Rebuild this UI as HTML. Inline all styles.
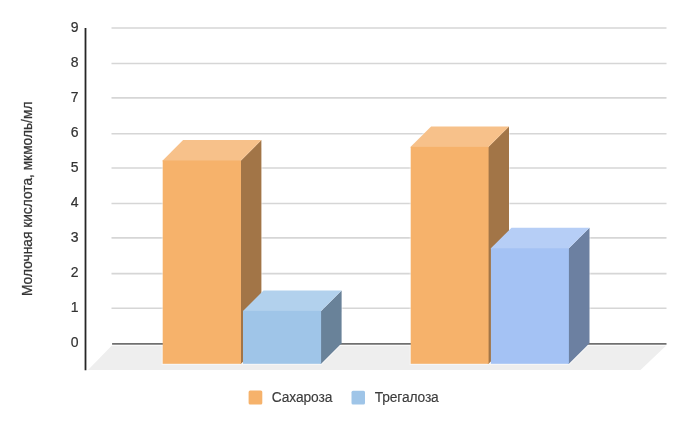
<!DOCTYPE html>
<html><head><meta charset="utf-8"><style>
html,body{margin:0;padding:0;background:#fff;}
body{width:688px;height:426px;overflow:hidden;position:relative;font-family:"Liberation Sans",sans-serif;}
svg{position:absolute;left:0;top:0;}
.tx{will-change:transform;}
text{font-family:"Liberation Sans",sans-serif;fill:#333;}
</style></head><body>
<svg width="688" height="426" viewBox="0 0 688 426">
<line x1="111.5" y1="308.30" x2="666.5" y2="308.30" stroke="#d6d6d6" stroke-width="1.6"/>
<line x1="111.5" y1="273.62" x2="666.5" y2="273.62" stroke="#d6d6d6" stroke-width="1.6"/>
<line x1="111.5" y1="237.86" x2="666.5" y2="237.86" stroke="#d6d6d6" stroke-width="1.6"/>
<line x1="111.5" y1="203.54" x2="666.5" y2="203.54" stroke="#d6d6d6" stroke-width="1.6"/>
<line x1="111.5" y1="168.06" x2="666.5" y2="168.06" stroke="#d6d6d6" stroke-width="1.6"/>
<line x1="111.5" y1="133.80" x2="666.5" y2="133.80" stroke="#d6d6d6" stroke-width="1.6"/>
<line x1="111.5" y1="97.92" x2="666.5" y2="97.92" stroke="#d6d6d6" stroke-width="1.6"/>
<line x1="111.5" y1="63.48" x2="666.5" y2="63.48" stroke="#d6d6d6" stroke-width="1.6"/>
<line x1="111.5" y1="28.06" x2="666.5" y2="28.06" stroke="#d6d6d6" stroke-width="1.6"/>
<polygon points="111.6,345.8 666,345.8 640.5,370.1 88.0,370.1" fill="#eeeeee"/>
<polygon points="162.7,363.8 162.7,160.5 183.1,140.1 261.4,140.1 261.4,343.40000000000003 241.0,363.8" fill="none" stroke="#ffffff" stroke-opacity="0.45" stroke-width="2.2" stroke-linejoin="miter"/>
<polygon points="243.0,363.8 243.0,310.9 263.5,290.4 341.6,290.4 341.6,343.3 321.1,363.8" fill="none" stroke="#ffffff" stroke-opacity="0.45" stroke-width="2.2" stroke-linejoin="miter"/>
<polygon points="410.7,363.8 410.7,146.85 431.09999999999997,126.44999999999999 509.0,126.44999999999999 509.0,343.40000000000003 488.6,363.8" fill="none" stroke="#ffffff" stroke-opacity="0.45" stroke-width="2.2" stroke-linejoin="miter"/>
<polygon points="490.9,363.8 490.9,248.3 511.5,227.70000000000002 589.5,227.70000000000002 589.5,343.2 568.9,363.8" fill="none" stroke="#ffffff" stroke-opacity="0.45" stroke-width="2.2" stroke-linejoin="miter"/>
<line x1="112.1" y1="343.85" x2="666.5" y2="343.85" stroke="#707070" stroke-width="1.85"/>
<polygon points="240.0,161.5 241.0,160.5 261.4,140.1 261.4,343.40000000000003 241.0,363.8 240.0,363.8" fill="#a27547"/>
<polygon points="162.7,161.5 162.7,160.5 183.1,140.1 261.4,140.1 241.0,160.5 240.0,161.5" fill="#f7c18a"/>
<rect x="162.7" y="160.5" width="78.30000000000001" height="203.3" fill="#f6b26b"/>
<polygon points="320.1,311.9 321.1,310.9 341.6,290.4 341.6,343.3 321.1,363.8 320.1,363.8" fill="#698299"/>
<polygon points="243.0,311.9 243.0,310.9 263.5,290.4 341.6,290.4 321.1,310.9 320.1,311.9" fill="#b2d1ed"/>
<rect x="243.0" y="310.9" width="78.10000000000002" height="52.900000000000034" fill="#9fc5e8"/>
<polygon points="487.6,147.85 488.6,146.85 509.0,126.44999999999999 509.0,343.40000000000003 488.6,363.8 487.6,363.8" fill="#a27547"/>
<polygon points="410.7,147.85 410.7,146.85 431.09999999999997,126.44999999999999 509.0,126.44999999999999 488.6,146.85 487.6,147.85" fill="#f7c18a"/>
<rect x="410.7" y="146.85" width="77.90000000000003" height="216.95000000000002" fill="#f6b26b"/>
<polygon points="567.9,249.3 568.9,248.3 589.5,227.70000000000002 589.5,343.2 568.9,363.8 567.9,363.8" fill="#6c80a1"/>
<polygon points="490.9,249.3 490.9,248.3 511.5,227.70000000000002 589.5,227.70000000000002 568.9,248.3 567.9,249.3" fill="#b6cef6"/>
<rect x="490.9" y="248.3" width="78.0" height="115.5" fill="#a4c2f4"/>
<line x1="85.5" y1="27.9" x2="85.5" y2="370.2" stroke="#262626" stroke-width="1.8"/>
</svg>
<svg class="tx" width="688" height="426" viewBox="0 0 688 426">
<g font-size="14" style="fill:#2a2a2a;stroke:#2a2a2a;stroke-width:0.2">
<text x="74.6" y="347.25" text-anchor="middle">0</text>
<text x="74.6" y="312.23" text-anchor="middle">1</text>
<text x="74.6" y="277.21" text-anchor="middle">2</text>
<text x="74.6" y="242.19" text-anchor="middle">3</text>
<text x="74.6" y="207.17" text-anchor="middle">4</text>
<text x="74.6" y="172.15" text-anchor="middle">5</text>
<text x="74.6" y="137.13" text-anchor="middle">6</text>
<text x="74.6" y="102.11" text-anchor="middle">7</text>
<text x="74.6" y="67.09" text-anchor="middle">8</text>
<text x="74.6" y="32.07" text-anchor="middle">9</text>
</g>
<text transform="translate(32.45,198.8) rotate(-90)" text-anchor="middle" font-size="13.75" style="stroke:#333;stroke-width:0.25">Молочная кислота, мкмоль/мл</text>
<rect x="248.6" y="390.6" width="13.7" height="13.9" rx="1.5" fill="#f6b26b"/>
<text x="271.8" y="402.0" font-size="13.8" textLength="60.6" style="fill:#3c3c3c;stroke:#3c3c3c;stroke-width:0.15">Сахароза</text>
<rect x="351.5" y="390.8" width="13.5" height="13.8" rx="1.5" fill="#9fc5e8"/>
<text x="374.7" y="402.0" font-size="13.8" textLength="64.1" style="fill:#3c3c3c;stroke:#3c3c3c;stroke-width:0.15">Трегалоза</text>
</svg>
</body></html>
